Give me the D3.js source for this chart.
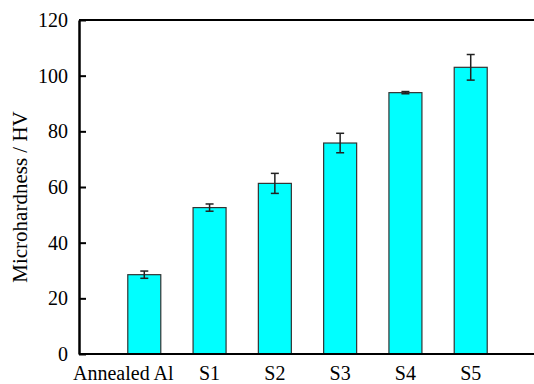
<!DOCTYPE html>
<html><head><meta charset="utf-8">
<script src="https://cdn.jsdelivr.net/npm/d3@7"></script>
<style>body{margin:0;background:#fff;}svg{display:block;} text{font-family:"Liberation Serif","Times New Roman","DejaVu Serif",serif !important;}</style>
</head><body>
<svg id="c" width="534" height="384"></svg>
<script>
const categories = ["Annealed Al","S1","S2","S3","S4","S5"];
const values = [28.5, 52.6, 61.3, 75.8, 93.9, 103.0];
const errors = [1.3, 1.3, 3.6, 3.5, 0.4, 4.6];
const yTicks = [0,20,40,60,80,100,120];

(function(){
const svg = d3.select("#c");
const mL = 79, mT = 20, mB = 354, mR = 536;
const x = d3.scaleLinear().domain([0, categories.length + 1]).range([mL, mR]);
const y = d3.scaleLinear().domain([0, 120]).range([mB, mT]);
const bw = 33;

// bars
svg.selectAll("rect.bar").data(values).enter().append("rect")
  .attr("x", (d,i)=>x(i+1)-bw/2).attr("width", bw)
  .attr("y", d=>y(d)).attr("height", d=>y(0)-y(d))
  .attr("fill","#00ffff").attr("stroke","#333").attr("stroke-width",1.2);

// error bars
const eb = svg.selectAll("g.eb").data(values).enter().append("g")
  .attr("stroke","#222").attr("stroke-width",1.5);
eb.append("line").attr("x1",(d,i)=>x(i+1)).attr("x2",(d,i)=>x(i+1))
  .attr("y1",(d,i)=>y(d+errors[i])).attr("y2",(d,i)=>y(d-errors[i]));
eb.append("line").attr("x1",(d,i)=>x(i+1)-4).attr("x2",(d,i)=>x(i+1)+4)
  .attr("y1",(d,i)=>y(d+errors[i])).attr("y2",(d,i)=>y(d+errors[i]));
eb.append("line").attr("x1",(d,i)=>x(i+1)-4).attr("x2",(d,i)=>x(i+1)+4)
  .attr("y1",(d,i)=>y(d-errors[i])).attr("y2",(d,i)=>y(d-errors[i]));

// frame
svg.append("line").attr("x1",mL).attr("x2",mR).attr("y1",mT).attr("y2",mT)
  .attr("stroke","#000").attr("stroke-width",2);
svg.append("line").attr("x1",mL).attr("x2",mR).attr("y1",mB).attr("y2",mB)
  .attr("stroke","#000").attr("stroke-width",2);

// y axis
const yAxis = d3.axisLeft(y).tickValues(yTicks).tickSizeInner(-7).tickSizeOuter(0).tickPadding(11);
const gy = svg.append("g").attr("transform",`translate(${mL},0)`).call(yAxis);
gy.attr("font-family", null);
gy.select(".domain").attr("stroke","#000").attr("stroke-width",2.5);
gy.selectAll(".tick line").attr("stroke","#000").attr("stroke-width",2);
gy.selectAll(".tick text").attr("font-size",20).attr("fill","#000");

// x labels
svg.selectAll("text.xl").data(categories).enter().append("text")
  .attr("x",(d,i)=>x(i+1) + (i===0 ? -21 : 0)).attr("y",380)
  .attr("text-anchor","middle").attr("font-size",20)
  .attr("fill","#000").text(d=>d);

// y label
svg.append("text").attr("transform",`translate(27,${(mT+mB)/2+10}) rotate(-90)`)
  .attr("text-anchor","middle").attr("font-size",21)
  .attr("fill","#000").text("Microhardness / HV");
})();
</script>
</body></html>
